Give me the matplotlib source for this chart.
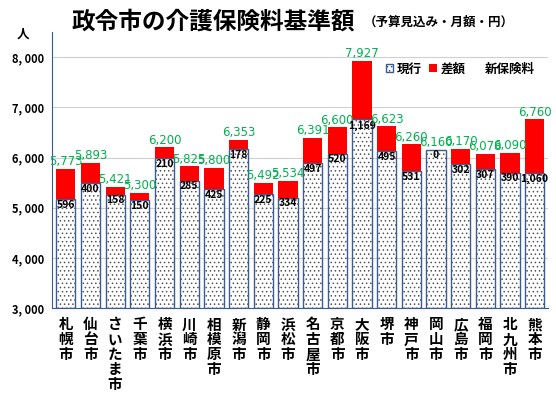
import matplotlib
matplotlib.use('Agg')
from matplotlib import pyplot as plt
from matplotlib.patches import Patch
from matplotlib.lines import Line2D

plt.rcParams['font.family'] = ['Noto Sans CJK JP', 'DejaVu Sans']
plt.rcParams['hatch.linewidth'] = 0.6

# Data.
cities = ['札幌市', '仙台市', 'さいたま市', '千葉市', '横浜市', '川崎市', '相模原市',
          '新潟市', '静岡市', '浜松市', '名古屋市', '京都市', '大阪市', '堺市',
          '神戸市', '岡山市', '広島市', '福岡市', '北九州市', '熊本市']
new_fee = [5773, 5893, 5421, 5300, 6200, 5825, 5800, 6353, 5492, 5534,
           6391, 6600, 7927, 6623, 6260, 6160, 6170, 6078, 6090, 6760]
diff = [596, 400, 158, 150, 210, 285, 425, 178, 225, 334,
        497, 520, 1169, 495, 531, 0, 302, 307, 390, 1060]
current = [n - d for n, d in zip(new_fee, diff)]
yticks = [3000, 4000, 5000, 6000, 7000, 8000]

fig = plt.figure(figsize=(5.56, 3.96), dpi=100)
ax = fig.add_axes([0.094, 0.222, 0.892, 0.697])

x = list(range(len(cities)))
edge = '#3b5b95'
base = [c - 3000 for c in current]
# dotted fill, then blue outline on top
ax.bar(x, base, bottom=3000, width=0.78, color='white', edgecolor='#555555',
       hatch='....', linewidth=0, zorder=2)
ax.bar(x, base, bottom=3000, width=0.78, fill=False, edgecolor=edge,
       linewidth=1.0, zorder=2)
ax.bar(x, diff, bottom=current, width=0.78, color='#ff0000', linewidth=0, zorder=2)

# Labels.
for i in x:
    ax.text(i, new_fee[i] + 15, format(new_fee[i], ','), ha='center', va='bottom',
            color='#00b050', fontsize=8.5, family='DejaVu Sans', zorder=3)
    ax.text(i, current[i] - 15, format(diff[i], ','), ha='center', va='top',
            color='black', fontsize=7.5, fontweight='bold', zorder=3)

ax.set_xlim(-0.55, len(cities) - 0.45)
ax.set_ylim(3000, 8500)
ax.set_yticks(yticks)
ax.set_yticklabels([format(v, ',').replace(',', ', ') for v in yticks],
                   fontsize=8, fontweight='bold')
ax.set_xticks(x)
ax.set_xticklabels(['\n'.join(c) for c in cities], fontsize=10.5, fontweight='bold',
                   va='top', linespacing=0.92)
ax.tick_params(axis='both', length=0, pad=6)
ax.grid(axis='y', color='#d0d0d0', linewidth=0.8, zorder=0)
for side in ['top', 'right']:
    ax.spines[side].set_visible(False)
ax.spines['left'].set_color(edge)
ax.spines['bottom'].set_color(edge)

handles = [Patch(facecolor='white', edgecolor=edge, hatch='....'),
           Patch(facecolor='#ff0000'),
           Line2D([], [], color='none')]
ax.legend(handles, ['現行', '差額', '新保険料'], ncol=3, frameon=False,
          loc='upper right', bbox_to_anchor=(0.995, 0.93),
          prop={'weight': 'bold', 'size': 9}, handlelength=0.6, handleheight=0.6,
          handletextpad=0.3, columnspacing=0.6)

fig.text(0.03, 0.905, '人', fontsize=9, fontweight='bold')
fig.text(0.128, 0.928, '政令市の介護保険料基準額', fontsize=17, fontweight='bold')
fig.text(0.655, 0.935, '（予算見込み・月額・円）', fontsize=9, fontweight='bold')

fig.savefig('out.png', dpi=100)
